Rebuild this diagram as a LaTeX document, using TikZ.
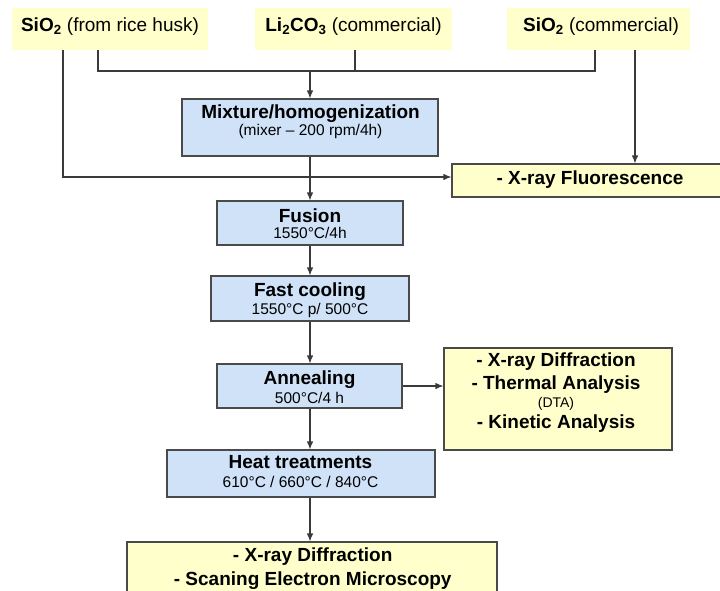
\documentclass[tikz,border=0pt]{standalone}
\usepackage{fontspec}
\setmainfont{Liberation Sans}
\usetikzlibrary{arrows.meta,calc}
\definecolor{srcyellow}{HTML}{FFFFCC}
\definecolor{resyellow}{HTML}{FFFFCC}
\definecolor{stepblue}{HTML}{CFE2F7}
\definecolor{boxedge}{HTML}{4A4A4A}
\definecolor{linecol}{HTML}{3A3A3A}
\begin{document}
\begin{tikzpicture}[x=1pt,y=-1pt,
  src/.style={fill=srcyellow,draw=none,inner sep=0pt},
  stepbox/.style={fill=stepblue,draw=boxedge,line width=1.1pt,inner sep=0pt},
  resbox/.style={fill=resyellow,draw=boxedge,line width=1.1pt,inner sep=0pt},
  boldline/.style={anchor=base,inner sep=0pt,font=\fontsize{19}{20}\selectfont\bfseries},
  subline/.style={anchor=base,inner sep=0pt,font=\fontsize{15.5}{18}\selectfont},
  srcline/.style={anchor=base,inner sep=0pt,font=\fontsize{19}{21}\selectfont},
  tinyline/.style={anchor=base,inner sep=0pt,font=\fontsize{14}{16}\selectfont},
  conn/.style={draw=linecol,line width=1.1pt},
  arr/.style={conn,-{Latex[length=8pt,width=6.5pt]}}]
\useasboundingbox (0,0) rectangle (720,590);

% source boxes
\node[src,minimum width=196pt,minimum height=42pt] (top1) at (110,29) {};
\node[src,minimum width=197pt,minimum height=42pt] (top2) at (353.5,29) {};
\node[src,minimum width=183pt,minimum height=42pt] (top3) at (598.5,29) {};
\node[srcline] (top1t) at (110,31) {\textbf{SiO\textsubscript{2}} (from rice husk)};
\node[srcline] (top2t) at (353.5,31) {\textbf{Li\textsubscript{2}CO\textsubscript{3}} (commercial)};
\node[srcline] (top3t) at (601,31) {\textbf{SiO\textsubscript{2}} (commercial)};

% process boxes
\node[stepbox,minimum width=256pt,minimum height=57pt] (mix) at (310,127.5) {};
\node[boldline] (mixa) at (310.5,118) {Mixture/homogenization};
\node[subline] (mixb) at (310.5,135.5) {(mixer – 200 rpm/4h)};

\node[resbox,minimum width=272pt,minimum height=33pt] (xrf) at (588,180.5) {};
\node[boldline] (xrft) at (590,184.3) {- X-ray Fluorescence};

\node[stepbox,minimum width=186pt,minimum height=44pt] (fusion) at (310,223) {};
\node[boldline] (fusiona) at (310,222) {Fusion};
\node[subline] (fusionb) at (310,238.5) {1550°C/4h};

\node[stepbox,minimum width=198pt,minimum height=45pt] (fast) at (310,298.5) {};
\node[boldline] (fasta) at (310,296.7) {Fast cooling};
\node[subline] (fastb) at (310,314.3) {1550°C p/ 500°C};

\node[stepbox,minimum width=185pt,minimum height=44pt] (anneal) at (309.5,386) {};
\node[boldline] (anneala) at (309.5,384.3) {Annealing};
\node[subline] (annealb) at (309.5,403.3) {500°C/4 h};

\node[resbox,minimum width=228pt,minimum height=102pt] (ana) at (558,399) {};
\node[boldline] (ana1) at (556,366.7) {- X-ray Diffraction};
\node[boldline] (ana2) at (556,389) {- Thermal Analysis};
\node[tinyline] (ana3) at (556,407.7) {(DTA)};
\node[boldline] (ana4) at (556,428) {- Kinetic Analysis};

\node[stepbox,minimum width=268pt,minimum height=47pt] (heat) at (301,473.5) {};
\node[boldline] (heata) at (300.5,468.3) {Heat treatments};
\node[subline] (heatb) at (300.5,487.7) {610°C / 660°C / 840°C};

\node[resbox,minimum width=370pt,minimum height=60pt] (final) at (312,572) {};
\node[boldline] (final1) at (312.7,561.7) {- X-ray Diffraction};
\node[boldline] (final2) at (312.7,585) {- Scaning Electron Microscopy};

% connectors
\coordinate (j1) at (98,71);
\coordinate (j2) at (355,71);
\coordinate (j3) at (595,71);
\coordinate (jm) at (310,71);
\coordinate (l1) at (63,177);
\coordinate (r1) at (635,71);
\coordinate (sp) at (310,0);

\draw[conn] (top1.south -| j1) -- (j1) -- (j3) -- (top3.south -| j3);
\draw[conn] (top2.south -| j2) -- (j2);
\draw[arr] (jm) -- (mix.north -| jm);
\draw[arr] (top1.south -| l1) -- (l1) -- (xrf.west |- l1);
\draw[arr] (top3.south -| r1) -- (xrf.north -| r1);
\draw[arr] (mix.south -| sp) -- (fusion.north -| sp);
\draw[arr] (fusion.south -| sp) -- (fast.north -| sp);
\draw[arr] (fast.south -| sp) -- (anneal.north -| sp);
\draw[arr] (anneal.east) -- (ana.west |- anneal.east);
\draw[arr] (anneal.south -| sp) -- (heat.north -| sp);
\draw[arr] (heat.south -| sp) -- (final.north -| sp);
\end{tikzpicture}
\end{document}
